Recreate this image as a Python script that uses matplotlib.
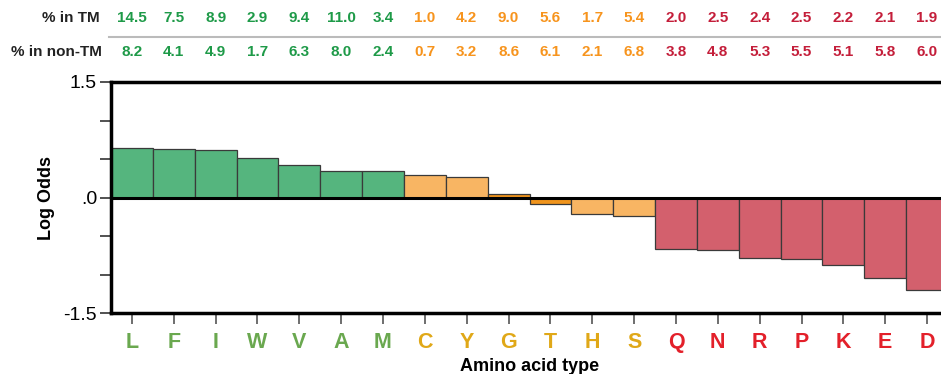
import matplotlib
matplotlib.use("Agg")
import matplotlib.pyplot as plt
from matplotlib import font_manager
import matplotlib.transforms as mtransforms

# ----------------------------
# Data
# ----------------------------

residues = ["L", "F", "I", "W", "V", "A", "M", "C", "Y", "G",
            "T", "H", "S", "Q", "N", "R", "P", "K", "E", "D"]
log_odds = [0.645, 0.63, 0.618, 0.514, 0.42, 0.344, 0.344, 0.292, 0.26, 0.044,
            -0.082, -0.22, -0.243, -0.665, -0.687, -0.78, -0.80, -0.88, -1.05, -1.195]
pct_tm = ["14.5", "7.5", "8.9", "2.9", "9.4", "11.0", "3.4", "1.0", "4.2", "9.0",
          "5.6", "1.7", "5.4", "2.0", "2.5", "2.4", "2.5", "2.2", "2.1", "1.9"]
pct_non_tm = ["8.2", "4.1", "4.9", "1.7", "6.3", "8.0", "2.4", "0.7", "3.2", "8.6",
              "6.1", "2.1", "6.8", "3.8", "4.8", "5.3", "5.5", "5.1", "5.8", "6.0"]
groups = ["hyd"] * 7 + ["mid"] * 6 + ["pol"] * 7

# ----------------------------
# Style
# ----------------------------

names = {f.name for f in font_manager.fontManager.ttflist}
base_font = "Liberation Sans" if "Liberation Sans" in names else "DejaVu Sans"
plt.rcParams["font.family"] = [base_font, "DejaVu Sans"]

bar_colors = {"hyd": "#55b57e", "mid": "#f8b563", "pol": "#d3606d"}
dark_orange = "#f0941c"
letter_colors = {"hyd": "#6aa84f", "mid": "#e0a818", "pol": "#e3202a"}
header_colors = {"hyd": "#1e9a48", "mid": "#f7941d", "pol": "#c41e3a"}

W, H = 941, 374
fig = plt.figure(figsize=(W / 100, H / 100), dpi=100)

# axes: x from 111 px to ~948 px, y from 82 px to 313 px
ax = fig.add_axes([111 / W, (H - 313) / H, (948 - 111) / W, (313 - 82) / H])

x = list(range(len(residues)))
colors = []
for g, v in zip(groups, log_odds):
    if g == "mid" and abs(v) < 0.1:
        colors.append(dark_orange)
    else:
        colors.append(bar_colors[g])

ax.bar(x, log_odds, width=1.0, color=colors, edgecolor="#3a3a3a", linewidth=0.9)
ax.axhline(0, color="black", linewidth=2.2)

ax.set_xlim(-0.5, len(residues) - 0.5)
ax.set_ylim(-1.5, 1.5)

ax.set_yticks([1.5, 1.0, 0.5, 0.0, -0.5, -1.0, -1.5])
ax.set_yticklabels(["1.5", "", "", ".0", "", "", "-1.5"], fontsize=14)
ax.set_xticks(x)
ax.set_xticklabels(residues, fontsize=15.5, fontweight="bold")
for lbl, g in zip(ax.get_xticklabels(), groups):
    lbl.set_color(letter_colors[g])

ax.tick_params(axis="y", length=8, width=1.2, color="#333333", pad=2)
ax.tick_params(axis="x", length=8, width=1.2, color="#555555", pad=6)

for side in ["left", "top", "bottom"]:
    ax.spines[side].set_linewidth(2.5)
    ax.spines[side].set_color("black")
ax.spines["right"].set_visible(False)

ax.set_ylabel("Log Odds", fontsize=13, fontweight="bold", labelpad=6)
ax.set_xlabel("Amino acid type", fontsize=13, fontweight="bold", labelpad=3)

# ----------------------------
# Header table
# ----------------------------

trans = mtransforms.blended_transform_factory(ax.transData, fig.transFigure)
y_tm = 1 - 18 / H
y_non = 1 - 52 / H

fig.text(100 / W, y_tm, "% in TM", ha="right", va="center",
         fontsize=11, fontweight="bold", color="#222222")
fig.text(102 / W, y_non, "% in non-TM", ha="right", va="center",
         fontsize=11, fontweight="bold", color="#222222")

for xi, a, b, g in zip(x, pct_tm, pct_non_tm, groups):
    ax.text(xi, y_tm, a, transform=trans, ha="center", va="center",
            fontsize=11, fontweight="bold", color=header_colors[g])
    ax.text(xi, y_non, b, transform=trans, ha="center", va="center",
            fontsize=11, fontweight="bold", color=header_colors[g])

fig.add_artist(plt.Line2D([109 / W, 1.0], [1 - 37 / H, 1 - 37 / H],
                          transform=fig.transFigure, color="#bbbbbb", linewidth=1.5))

fig.savefig("out.png", dpi=100)
